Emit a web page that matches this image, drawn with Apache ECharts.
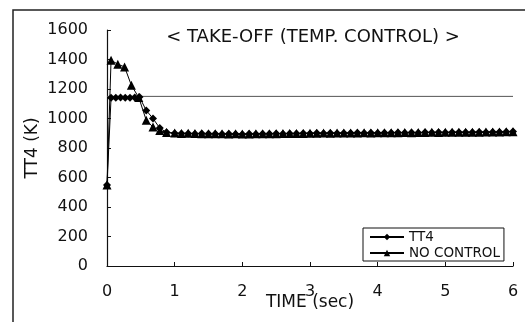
<!DOCTYPE html>
<html><head><meta charset="utf-8">
<script src="https://cdn.jsdelivr.net/npm/echarts@6/dist/echarts.min.js"></script>
<style>html,body{margin:0;padding:0;background:#fff}#c{width:525px;height:322px}</style>
</head><body><div id="c"></div>
<script>
var titleText = '< TAKE-OFF (TEMP. CONTROL) >';
var xTicks = [0, 1, 2, 3, 4, 5, 6];
var yTicks = [0, 200, 400, 600, 800, 1000, 1200, 1400, 1600];
var limitTime = [0, 6];
var limitValue = [1150, 1150];

var tt4EarlyTime = [0, 0.06, 0.13, 0.2, 0.27, 0.34, 0.41, 0.48, 0.58, 0.68, 0.78, 0.88];
var tt4EarlyVals = [550, 1140, 1140, 1142, 1140, 1141, 1142, 1145, 1055, 1000, 935, 906];
var ncEarlyTime = [0, 0.06, 0.16, 0.26, 0.36, 0.47, 0.58, 0.68, 0.78, 0.88];
var ncEarlyVals = [550, 1395, 1368, 1350, 1225, 1142, 988, 942, 918, 905];

var steadyTime = [1.0,1.1,1.2,1.3,1.4,1.5,1.6,1.7,1.8,1.9,2.0,2.1,2.2,2.3,2.4,2.5,2.6,2.7,2.8,2.9,3.0,3.1,3.2,3.3,3.4,3.5,3.6,3.7,3.8,3.9,4.0,4.1,4.2,4.3,4.4,4.5,4.6,4.7,4.8,4.9,5.0,5.1,5.2,5.3,5.4,5.5,5.6,5.7,5.8,5.9,6.0];
var tt4Steady = [900,898,899,897,898,896,897,895,896,895,894,896,895,897,896,898,897,899,898,900,899,901,900,901,900,902,901,903,902,903,902,904,903,905,904,905,904,906,905,906,905,907,906,907,906,908,907,909,908,910,912];
var ncSteady  = [901,899,900,898,897,897,896,896,895,896,895,895,896,896,897,897,898,898,899,899,900,900,901,900,901,901,902,902,903,902,903,903,904,904,905,904,905,905,906,905,906,906,907,906,907,907,908,908,909,910,911];

function pairs(t, v) { return t.map(function (x, i) { return [x, v[i]]; }); }
var tt4Data = pairs(tt4EarlyTime.concat(steadyTime), tt4EarlyVals.concat(tt4Steady));
var ncData = pairs(ncEarlyTime.concat(steadyTime), ncEarlyVals.concat(ncSteady));
var limitData = pairs(limitTime, limitValue);

var FONT = 'DejaVu Sans';
var chart = echarts.init(document.getElementById('c'), null, {renderer: 'canvas'});
chart.setOption({
  animation: false,
  backgroundColor: '#fff',
  title: {
    text: titleText, left: 308, top: 23, textAlign: 'center',
    textStyle: {fontFamily: FONT, fontSize: 18, fontWeight: 'normal', color: '#111'}
  },
  grid: {left: 107, right: 12, top: 30, bottom: 56, containLabel: false, outerBoundsMode: 'none'},
  xAxis: {
    type: 'value', min: xTicks[0], max: xTicks[xTicks.length - 1], interval: 1,
    name: 'TIME (sec)', nameLocation: 'middle', nameGap: 28, nameMoveOverlap: false,
    nameTextStyle: {fontFamily: FONT, fontSize: 17, color: '#111'},
    axisLine: {show: true, lineStyle: {color: '#111', width: 1.2}},
    axisTick: {show: true, inside: true, length: 4, lineStyle: {color: '#111'}},
    axisLabel: {fontFamily: FONT, fontSize: 16, color: '#111', margin: 18},
    splitLine: {show: false}
  },
  yAxis: {
    type: 'value', min: yTicks[0], max: yTicks[yTicks.length - 1], interval: 200,
    name: 'TT4 (K)', nameLocation: 'middle', nameGap: 66, nameRotate: 90, nameMoveOverlap: false,
    nameTextStyle: {fontFamily: FONT, fontSize: 17, color: '#111'},
    axisLine: {show: true, lineStyle: {color: '#111', width: 1.2}},
    axisTick: {show: true, inside: true, length: 4, lineStyle: {color: '#111'}},
    axisLabel: {fontFamily: FONT, fontSize: 16, color: '#111', margin: 19,
      formatter: function (v) { return String(v); }},
    splitLine: {show: false}
  },
  legend: {
    orient: 'vertical', left: 363, top: 228,
    itemWidth: 34, itemHeight: 8, itemGap: 2,
    padding: [2, 4, 1, 6],
    borderColor: '#111', borderWidth: 1, borderRadius: 0,
    textStyle: {fontFamily: FONT, fontSize: 13.5, color: '#111'},
    data: ['TT4', 'NO CONTROL']
  },
  series: [
    {
      name: 'LIMIT', type: 'line', data: limitData, symbol: 'none',
      lineStyle: {color: '#555', width: 1}, z: 1, silent: true
    },
    {
      name: 'NO CONTROL', type: 'line', data: ncData, symbol: 'triangle', symbolSize: 9,
      itemStyle: {color: '#000'}, lineStyle: {color: '#000', width: 1}, z: 2
    },
    {
      name: 'TT4', type: 'line', data: tt4Data, symbol: 'diamond', symbolSize: 8,
      itemStyle: {color: '#000'}, lineStyle: {color: '#000', width: 1}, z: 3
    }
  ],
  graphic: [{
    type: 'polyline', silent: true,
    shape: {points: [[13, 322], [13, 10], [525, 10]]},
    style: {stroke: '#222', lineWidth: 1.5, fill: null}
  }]
});
</script></body></html>
